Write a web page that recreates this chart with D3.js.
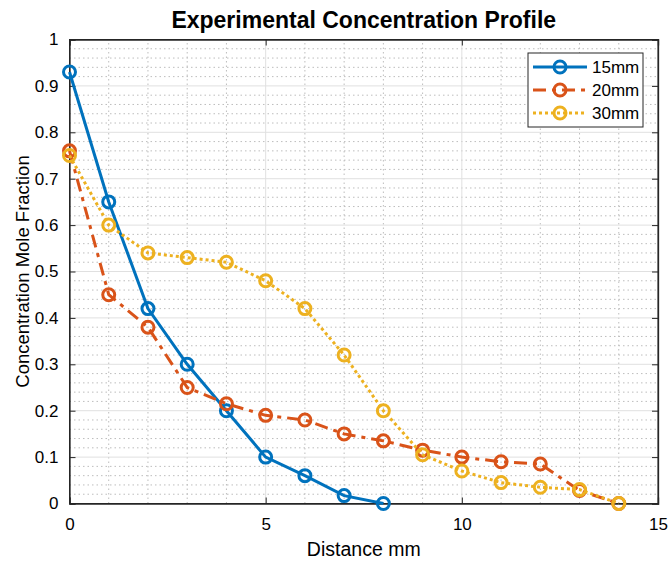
<!DOCTYPE html>
<html><head><meta charset="utf-8">
<script src="https://cdn.jsdelivr.net/npm/d3@7"></script>
<style>body{margin:0;background:#fff}svg{display:block;font-family:"Liberation Sans",Arial,Helvetica,sans-serif}</style>
</head><body>
<script>
const xs15 = [0,1,2,3,4,5,6,7,8];
const y15  = [0.93,0.65,0.42,0.30,0.20,0.10,0.06,0.017,0.0];
const xs20 = [0,1,2,3,4,5,6,7,8,9,10,11,12,13,14];
const y20  = [0.76,0.45,0.38,0.25,0.215,0.19,0.18,0.15,0.135,0.115,0.10,0.09,0.085,0.028,0.0];
const xs30 = [0,1,2,3,4,5,6,7,8,9,10,11,12,13,14];
const y30  = [0.75,0.60,0.54,0.53,0.52,0.48,0.42,0.32,0.20,0.105,0.07,0.045,0.035,0.03,0.0];
const seriesNames = ["15mm","20mm","30mm"];
const xTicks = [0,5,10,15];
const yTicks = [0,0.1,0.2,0.3,0.4,0.5,0.6,0.7,0.8,0.9,1];

const W=668,H=562;
const m={l:69.5,r:10,t:39.5,b:58.5};
const svg=d3.select("body").append("svg").attr("width",W).attr("height",H);
const x=d3.scaleLinear().domain([0,15]).range([m.l,658]);
const y=d3.scaleLinear().domain([0,1]).range([503.5,m.t]);

const g=svg.append("g");
// minor grid
const minorX=d3.range(0,15.001,1).filter(v=>v%5!==0);
const minorY=d3.range(0,1.0001,0.02).map(v=>+v.toFixed(2)).filter(v=>Math.abs(v*10-Math.round(v*10))>1e-6);
g.selectAll(".mx").data(minorX).join("line").attr("x1",d=>x(d)).attr("x2",d=>x(d)).attr("y1",y(0)).attr("y2",y(1))
 .attr("stroke","#bdbdbd").attr("stroke-width",1).attr("stroke-dasharray","1.5,3");
g.selectAll(".my").data(minorY).join("line").attr("y1",d=>y(d)).attr("y2",d=>y(d)).attr("x1",x(0)).attr("x2",x(15))
 .attr("stroke","#bdbdbd").attr("stroke-width",1).attr("stroke-dasharray","1.5,3");
// major grid
g.selectAll(".gx").data(xTicks).join("line").attr("x1",d=>x(d)).attr("x2",d=>x(d)).attr("y1",y(0)).attr("y2",y(1))
 .attr("stroke","#e0e0e0").attr("stroke-width",1);
g.selectAll(".gy").data(yTicks).join("line").attr("y1",d=>y(d)).attr("y2",d=>y(d)).attr("x1",x(0)).attr("x2",x(15))
 .attr("stroke","#e0e0e0").attr("stroke-width",1);

// box and axes
const axc="#262626";
svg.append("rect").attr("x",x(0)).attr("y",y(1)).attr("width",x(15)-x(0)).attr("height",y(0)-y(1))
 .attr("fill","none").attr("stroke",axc).attr("stroke-width",1);
const xa=svg.append("g").attr("transform",`translate(0,${y(0)})`)
 .call(d3.axisBottom(x).tickValues(xTicks).tickSize(-6).tickPadding(14).tickFormat(d3.format("d")));
const xaTop=svg.append("g").attr("transform",`translate(0,${y(1)})`)
 .call(d3.axisTop(x).tickValues(xTicks).tickSize(-6).tickFormat(""));
const ya=svg.append("g").attr("transform",`translate(${x(0)},0)`)
 .call(d3.axisLeft(y).tickValues(yTicks).tickSize(-6).tickPadding(11).tickFormat(d=>d===0?"0":d===1?"1":d3.format(".1f")(d)));
const yaR=svg.append("g").attr("transform",`translate(${x(15)},0)`)
 .call(d3.axisRight(y).tickValues(yTicks).tickSize(-6).tickFormat(""));
[xa,xaTop,ya,yaR].forEach(a=>{a.select(".domain").attr("stroke",axc).attr("stroke-width",1.3);
 a.selectAll(".tick line").attr("stroke",axc);
 a.selectAll("text").attr("fill","#000").attr("font-size",17).attr("font-family","Liberation Sans, Arial, sans-serif");});

// series
const colors=["#0072BD","#D95319","#EDB120"];
const dashes=[null,"13,6,4,6","3,3"];
const data=[xs15.map((v,i)=>[v,y15[i]]),xs20.map((v,i)=>[v,y20[i]]),xs30.map((v,i)=>[v,y30[i]])];
const line=d3.line().x(d=>x(d[0])).y(d=>y(d[1]));
data.forEach((d,i)=>{
  svg.append("path").datum(d).attr("d",line).attr("fill","none").attr("stroke",colors[i]).attr("stroke-width",3)
   .attr("stroke-dasharray",dashes[i]);
  svg.append("g").selectAll("circle").data(d).join("circle").attr("cx",p=>x(p[0])).attr("cy",p=>y(p[1])).attr("r",6)
   .attr("fill","none").attr("stroke",colors[i]).attr("stroke-width",3);
});

// title & labels
svg.append("text").attr("x",(x(0)+x(15))/2).attr("y",28).attr("text-anchor","middle").attr("font-size",23)
 .attr("font-weight","bold").text("Experimental Concentration Profile");
svg.append("text").attr("x",(x(0)+x(15))/2).attr("y",556).attr("text-anchor","middle").attr("font-size",19.5).text("Distance mm");
svg.append("text").attr("transform",`translate(29,${(y(0)+y(1))/2}) rotate(-90)`).attr("text-anchor","middle").attr("font-size",18.5)
 .text("Concentration Mole Fraction");

// legend
const lg=svg.append("g");
lg.append("rect").attr("x",528).attr("y",53).attr("width",115).attr("height",74).attr("fill","#fff").attr("stroke",axc).attr("stroke-width",1);
seriesNames.forEach((n,i)=>{
  const yy=67+i*23;
  lg.append("line").attr("x1",533).attr("x2",587).attr("y1",yy).attr("y2",yy).attr("stroke",colors[i]).attr("stroke-width",3).attr("stroke-dasharray",dashes[i]);
  lg.append("circle").attr("cx",560).attr("cy",yy).attr("r",6).attr("fill","none").attr("stroke",colors[i]).attr("stroke-width",3);
  lg.append("text").attr("x",592).attr("y",yy+6).attr("font-size",17).text(n);
});
</script>
</body></html>
